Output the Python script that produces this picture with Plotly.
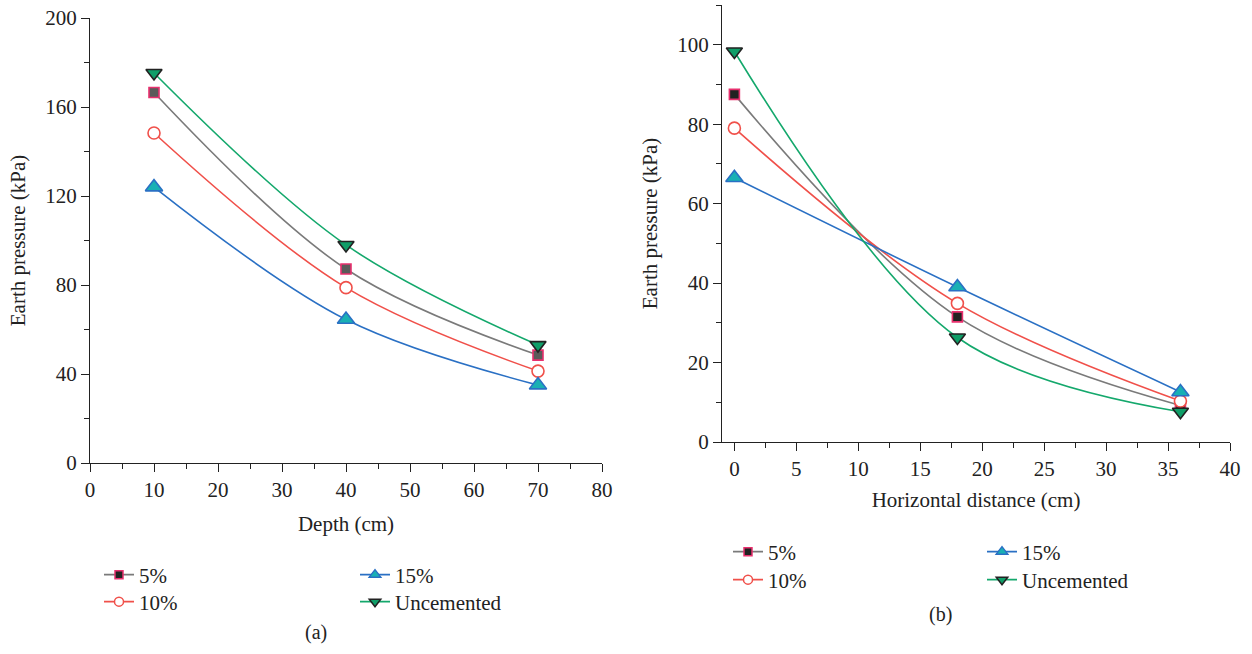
import plotly.graph_objects as go

# ---------------- data ----------------
series_names = ["5%", "10%", "15%", "Uncemented"]

depth_cm = [10, 40, 70]
a_5 = [166.5, 87.2, 48.5]
a_10 = [148.3, 78.8, 41.3]
a_15 = [124.0, 64.5, 35.0]
a_unc = [175.3, 98.0, 53.0]

horiz_cm = [0, 18, 36]
b_5 = [87.5, 31.5, 9.2]
b_10 = [79.0, 34.9, 10.3]
b_15 = [66.5, 39.0, 12.6]
b_unc = [98.3, 26.3, 7.6]

# ---------------- styles ----------------
FONT = "Liberation Serif"
line_colors = ["#7a7a7a", "#f0504a", "#2a70c4", "#14a86c"]
symbols = ["square", "circle", "triangle-up", "triangle-down"]
fills_a = ["#5a5a5a", "#ffffff", "#19b0b4", "#0f9e68"]
fills_b = ["#222222", "#ffffff", "#19b0b4", "#0f9e68"]
borders = ["#e8306e", "#f0504a", "#2a70c4", "#222222"]
sizes = [10, 12, 15, 14]
leg_sizes = [8, 9, 10, 10]

W, H = 1252, 654
def px(x):
    return x / W
def py(y):
    return 1 - y / H

# legend positions (pixels): (x of legend box, y centre)
leg_pos_a = [(99, 575), (99, 602), (355, 575), (355, 602)]
leg_pos_b = [(728, 552), (728, 580), (982, 552), (982, 580)]

fig = go.Figure()

a_vals = [a_5, a_10, a_15, a_unc]
b_vals = [b_5, b_10, b_15, b_unc]

leg_layout = {}
leg_counter = [0]

def add_panel(xs, vals, fills, xa, ya, positions):
    for i, name in enumerate(series_names):
        fig.add_trace(go.Scatter(
            x=xs, y=vals[i], name=name, mode="lines+markers", showlegend=False,
            line=dict(color=line_colors[i], width=1.6, shape="spline"),
            marker=dict(symbol=symbols[i], size=sizes[i], color=fills[i],
                        line=dict(color=borders[i], width=1.6)),
            xaxis=xa, yaxis=ya))
    for i, name in enumerate(series_names):
        leg_counter[0] += 1
        key = "legend" if leg_counter[0] == 1 else f"legend{leg_counter[0]}"
        fig.add_trace(go.Scatter(
            x=[None], y=[None], name=name, mode="lines+markers", showlegend=True,
            line=dict(color=line_colors[i], width=1.6),
            marker=dict(symbol=symbols[i], size=leg_sizes[i],
                        color="#222222" if i == 0 else fills[i],
                        line=dict(color=borders[i], width=1.5)),
            xaxis=xa, yaxis=ya, legend=key))
        lx, ly = positions[i]
        leg_layout[key] = dict(
            font=dict(family=FONT, size=21, color="#222"),
            bgcolor="rgba(0,0,0,0)", borderwidth=0,
            x=px(lx), y=py(ly), xanchor="left", yanchor="middle",
            orientation="v", tracegroupgap=0)

add_panel(depth_cm, a_vals, fills_a, "x", "y", leg_pos_a)
add_panel(horiz_cm, b_vals, fills_b, "x2", "y2", leg_pos_b)

axis_common = dict(
    showgrid=False, zeroline=False, showline=True, linecolor="#222",
    linewidth=1.3, ticks="outside", ticklen=8, tickwidth=1.3, tickcolor="#222",
    tickfont=dict(family=FONT, size=21, color="#222"),
    title_font=dict(family=FONT, size=21, color="#222"),
    mirror=False, automargin=False,
)
minor = dict(ticks="outside", ticklen=5, tickwidth=1.3, tickcolor="#222")

fig.update_layout(
    width=W, height=H, margin=dict(l=0, r=0, t=0, b=0),
    paper_bgcolor="white", plot_bgcolor="white",
    font=dict(family=FONT, size=20, color="#222"),
    xaxis=dict(axis_common, domain=[px(90), px(602)], range=[0, 80],
               dtick=10, tick0=0, minor=dict(minor, dtick=5),
               title=dict(text="Depth (cm)", standoff=14), anchor="y"),
    yaxis=dict(axis_common, domain=[py(463), py(18)], range=[0, 200],
               dtick=40, tick0=0, minor=dict(minor, dtick=20),
               title=dict(text="Earth pressure (kPa)", standoff=13), anchor="x"),
    xaxis2=dict(axis_common, domain=[px(722), px(1230)], range=[-1, 40],
                dtick=5, tick0=0, minor=dict(minor, dtick=2.5),
                title=dict(text="Horizontal distance (cm)", standoff=11), anchor="y2"),
    yaxis2=dict(axis_common, domain=[py(442), py(5)], range=[0, 110],
                dtick=20, tick0=0, minor=dict(minor, dtick=10),
                title=dict(text="Earth pressure (kPa)", standoff=13), anchor="x2"),
    showlegend=True,
    **leg_layout,
)

fig.add_annotation(text="(a)", x=px(316), y=py(632), xref="paper", yref="paper",
                   xanchor="center", yanchor="middle", showarrow=False,
                   font=dict(family=FONT, size=20, color="#222"))
fig.add_annotation(text="(b)", x=px(940), y=py(614), xref="paper", yref="paper",
                   xanchor="center", yanchor="middle", showarrow=False,
                   font=dict(family=FONT, size=20, color="#222"))

fig.write_html("out.html", config={"displayModeBar": False},
               post_script="document.body.style.margin='0px';")
